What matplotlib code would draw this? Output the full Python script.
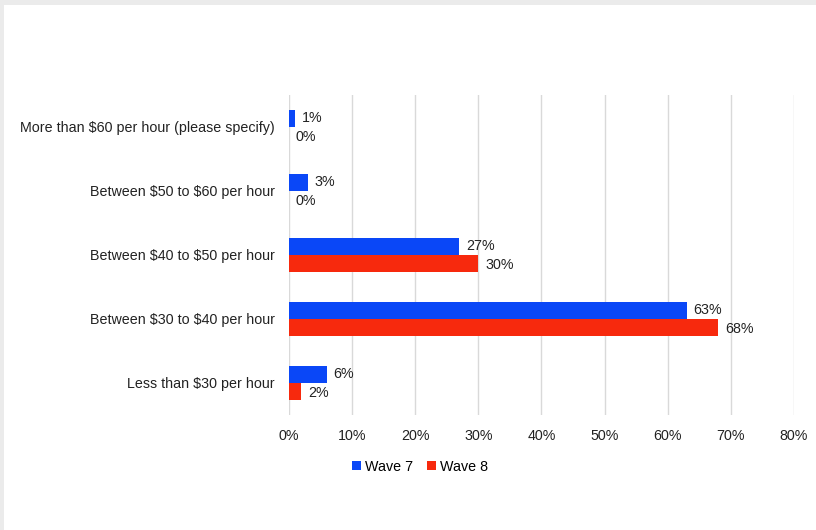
import numpy as np
import matplotlib.pyplot as plt
from matplotlib.patches import Rectangle

categories = ['More than $60 per hour (please specify)',
              'Between $50 to $60 per hour',
              'Between $40 to $50 per hour',
              'Between $30 to $40 per hour',
              'Less than $30 per hour']
wave7 = [1, 3, 27, 63, 6]
wave8 = [0, 0, 30, 68, 2]
xticks = [0, 10, 20, 30, 40, 50, 60, 70, 80]

blue = '#0a47f7'
red = '#f7290d'

plt.rcParams['font.family'] = ['Liberation Sans', 'DejaVu Sans']
plt.rcParams['text.parse_math'] = False
fs = 10.3

fig = plt.figure(figsize=(8.16, 5.30), dpi=100)
# light grey frame on top and left edge
fig.patches.append(Rectangle((0, 0), 1, 1, transform=fig.transFigure,
                             facecolor='#ebebeb', zorder=-2))
fig.patches.append(Rectangle((0.005, 0), 1, 0.99, transform=fig.transFigure,
                             facecolor='white', zorder=-1))

ax = fig.add_axes([0.354, 0.217, 0.619, 0.604])
y = np.arange(len(categories))
h = 0.27
ax.barh(y - h/2, wave7, height=h, color=blue, label='Wave 7', zorder=3)
ax.barh(y + h/2, wave8, height=h, color=red, label='Wave 8', zorder=3)

for i in range(len(categories)):
    ax.annotate(f'{wave7[i]}%', (wave7[i], y[i] - h/2), xytext=(5, 0),
                textcoords='offset points', va='center', ha='left',
                fontsize=fs, color='#222222')
    ax.annotate(f'{wave8[i]}%', (wave8[i], y[i] + h/2), xytext=(5, -1),
                textcoords='offset points', va='center', ha='left',
                fontsize=fs, color='#222222')

ax.set_xlim(0, 80)
ax.set_ylim(len(categories) - 0.5, -0.5)
ax.set_xticks(xticks)
ax.set_xticklabels([f'{t}%' for t in xticks], fontsize=fs, color='#222222')
ax.set_yticks(y)
ax.set_yticklabels(categories, fontsize=fs, color='#222222')
ax.tick_params(length=0, pad=10)
ax.tick_params(axis='x', pad=10)
ax.grid(axis='x', color='#d9d9d9', linewidth=1, zorder=0)
for s in ax.spines.values():
    s.set_visible(False)

ax.legend(loc='upper center', bbox_to_anchor=(0.26, -0.1), ncol=2,
          frameon=False, fontsize=fs, handlelength=0.6, handleheight=0.6,
          handletextpad=0.3, columnspacing=1.0)

fig.savefig('out.png', dpi=100)
